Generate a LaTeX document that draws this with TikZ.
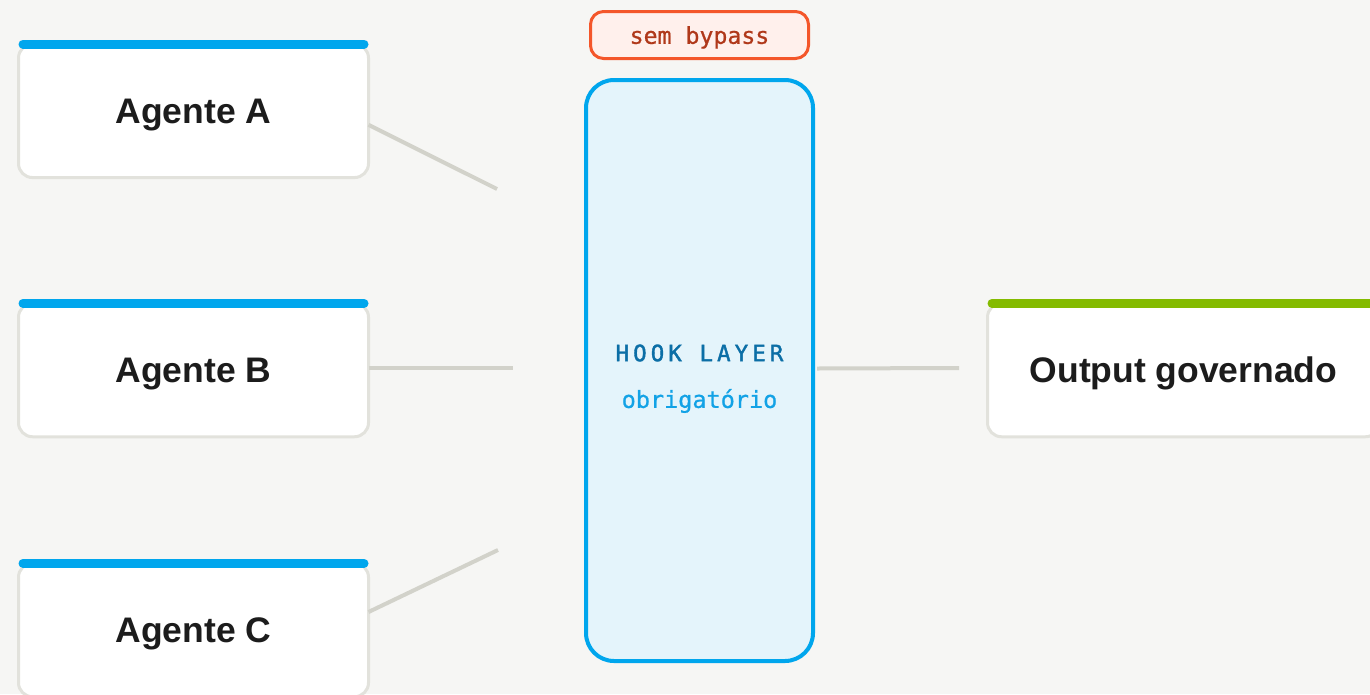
\documentclass[tikz,border=0pt]{standalone}
\usepackage{fontspec}
\setmainfont{Liberation Sans}
\newfontfamily\codefont[FakeBold=0.8]{DejaVu Sans Mono}
\newfontfamily\codespaced[LetterSpace=18,FakeBold=1.6]{DejaVu Sans Mono}
\definecolor{canvas}{HTML}{F6F6F4}
\definecolor{cardline}{HTML}{E2E2DC}
\definecolor{wire}{HTML}{D2D2CA}
\definecolor{agentblue}{HTML}{00A6ED}
\definecolor{outgreen}{HTML}{84BB00}
\definecolor{hookfill}{HTML}{E4F4FB}
\definecolor{hookdark}{HTML}{0B6EA6}
\definecolor{hooklight}{HTML}{12A2E6}
\definecolor{tagline}{HTML}{F4562A}
\definecolor{tagfill}{HTML}{FFF0EC}
\definecolor{tagtext}{HTML}{B0381A}
\definecolor{ink}{HTML}{1C1C1C}
\tikzset{
  card/.style={draw=cardline, line width=3pt, fill=white, rounded corners=14pt,
    outer sep=0pt, inner sep=0pt, minimum height=133.5pt, text depth=0pt,
    font=\bfseries\fontsize{35.5}{40}\selectfont, text=ink},
  topbar/.style={line width=9pt, line cap=round, shorten <=4.5pt, shorten >=4.5pt},
  wireline/.style={draw=wire, line width=4pt},
  hookbox/.style={draw=agentblue, line width=4pt, fill=hookfill, rounded corners=28pt,
    outer sep=0pt, minimum width=227pt, minimum height=581pt},
  tagbox/.style={draw=tagline, line width=3pt, fill=tagfill, rounded corners=13pt,
    outer sep=0pt, minimum width=218pt, minimum height=47pt, text depth=0pt,
    font=\codefont\fontsize{23.2}{26}\selectfont, text=tagtext}
}
\begin{document}
\begin{tikzpicture}[x=1pt,y=-1pt]
  \useasboundingbox (0,0) rectangle (1370,694);
  \clip (0,0) rectangle (1370,694);
  \fill[canvas] (0,0) rectangle (1370,694);

  % free ends of the wires, short of the hook layer and of the output card
  \coordinate (inA) at (497,189);
  \coordinate (inB) at (513,368);
  \coordinate (inC) at (498,550);
  \coordinate (toOut) at (959,368);

  % agent cards
  \node[card, minimum width=350pt] (agentA) at (193.5,110.8) {Agente A};
  \node[card, minimum width=350pt] (agentB) at (193.5,370) {Agente B};
  \node[card, minimum width=350pt] (agentC) at (193.5,630) {Agente C};

  % wires from the agents into the hook layer
  \draw[wireline] ([yshift=-14pt]agentA.east) -- (inA);
  \draw[wireline] ([yshift=2pt]agentB.east) -- (inB);
  \draw[wireline] ([yshift=18pt]agentC.east) -- (inC);

  % hook layer
  \node[hookbox] (hook) at (699.5,370.5) {};
  \draw[wireline] ([yshift=2pt,xshift=4pt]hook.east) -- (toOut);
  \node[font=\codespaced\fontsize{22.5}{26}\selectfont, text=hookdark] (hookname)
    at (699.5,353) {HOOK LAYER};
  \node[font=\codefont\fontsize{23.5}{26}\selectfont, text=hooklight] (hooknote)
    at (699.5,401) {obrigatório};

  % tag above the hook layer
  \node[tagbox] (tag) at (699.5,35) {sem bypass};

  % output card
  \node[card, minimum width=392pt] (out) at (1183.5,370) {Output governado};

  % coloured top bars of the cards
  \draw[topbar, agentblue] (agentA.north west) -- (agentA.north east);
  \draw[topbar, agentblue] (agentB.north west) -- (agentB.north east);
  \draw[topbar, agentblue] (agentC.north west) -- (agentC.north east);
  \draw[topbar, outgreen] (out.north west) -- (out.north east);
\end{tikzpicture}
\end{document}
